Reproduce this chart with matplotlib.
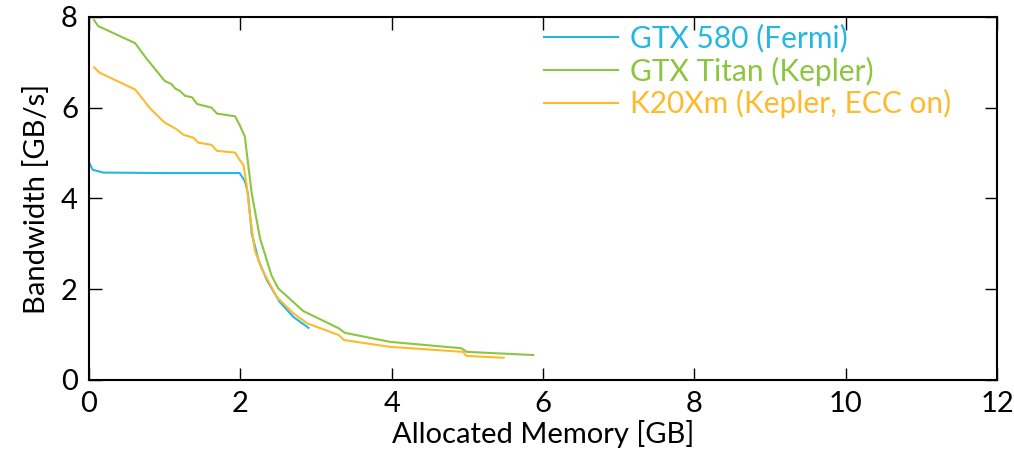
import matplotlib.pyplot as plt

# GTX 580 (Fermi)
fermi_x = [0.01, 0.05, 0.19, 1.0, 1.99, 2.06, 2.10, 2.15, 2.24, 2.35, 2.52, 2.70, 2.90]
fermi_y = [4.76, 4.63, 4.57, 4.56, 4.56, 4.38, 4.11, 3.23, 2.64, 2.20, 1.72, 1.39, 1.15]

# GTX Titan (Kepler)
titan_x = [0.066, 0.12, 0.61, 0.76, 1.0, 1.09, 1.14, 1.20, 1.27, 1.36, 1.43, 1.62, 1.69,
           1.93, 1.99, 2.06, 2.08, 2.15, 2.26, 2.41, 2.50, 2.83, 3.30, 3.38, 3.98,
           4.92, 4.99, 5.87]
titan_y = [7.93, 7.80, 7.42, 7.08, 6.59, 6.52, 6.42, 6.37, 6.26, 6.23, 6.08, 6.00, 5.87,
           5.81, 5.62, 5.36, 5.07, 4.11, 3.12, 2.31, 2.02, 1.52, 1.14, 1.04, 0.84,
           0.70, 0.62, 0.55]

# K20Xm (Kepler, ECC on)
k20_x = [0.066, 0.14, 0.61, 0.81, 1.0, 1.09, 1.16, 1.25, 1.38, 1.44, 1.62, 1.69, 1.93,
         1.99, 2.04, 2.08, 2.13, 2.19, 2.28, 2.48, 2.70, 2.88, 3.30, 3.37, 3.98,
         4.94, 4.99, 5.48]
k20_y = [6.89, 6.77, 6.40, 5.98, 5.67, 5.59, 5.52, 5.40, 5.34, 5.23, 5.18, 5.05, 5.01,
         4.85, 4.74, 4.33, 3.60, 2.86, 2.46, 1.83, 1.47, 1.25, 0.99, 0.88, 0.73,
         0.62, 0.53, 0.49]

labels = ['GTX 580 (Fermi)', 'GTX Titan (Kepler)', 'K20Xm (Kepler, ECC on)']
colors = ['#25b7e1', '#8cc540', '#fdba2c']

plt.rcParams['font.family'] = ['Lato', 'DejaVu Sans']

fig = plt.figure(figsize=(10.14, 4.57), dpi=100)
ax = fig.add_axes([0.0878, 0.1685, 0.8955, 0.7945])

ax.plot(fermi_x, fermi_y, color=colors[0], lw=1.5, label=labels[0])
ax.plot(titan_x, titan_y, color=colors[1], lw=1.5, label=labels[1])
ax.plot(k20_x, k20_y, color=colors[2], lw=1.5, label=labels[2])

ax.set_xlim(0, 12)
ax.set_ylim(0, 8)
ax.set_xticks(range(0, 13, 2))
ax.set_yticks(range(0, 9, 2))
ax.tick_params(direction='in', top=True, right=True, length=9, width=1,
               labelsize=21, pad=8)
for s in ax.spines.values():
    s.set_linewidth(1.5)

ax.set_xlabel('Allocated Memory [GB]', fontsize=21, labelpad=2)
ax.set_ylabel('Bandwidth [GB/s]', fontsize=21, labelpad=8)

leg = ax.legend(loc='upper left', bbox_to_anchor=(0.471, 1.054), frameon=False,
                handlelength=2.5, handletextpad=0.4, labelspacing=0.12,
                prop={'size': 21.5}, labelcolor='linecolor')

fig.savefig('out.png', dpi=100)
